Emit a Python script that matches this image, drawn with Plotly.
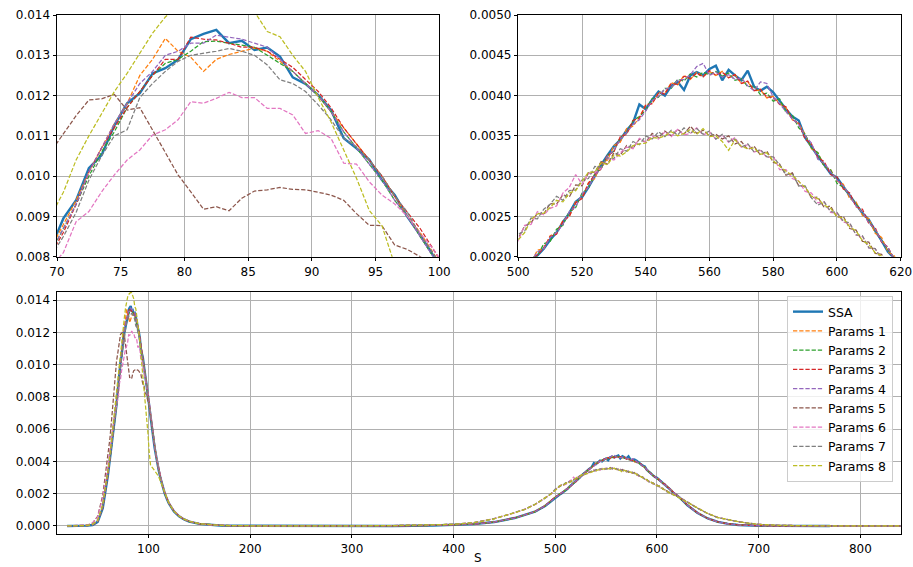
import plotly.graph_objects as go

# ---------------- data (densities in units of 1e-4) ----------------
SCALE = 1e-4

# x grid around the first peak
X1 = [20, 30, 40, 45, 50, 55, 58, 60, 62, 64, 66,
      67.5, 68.5, 69.5, 70.5, 71.5, 72.5, 73.5, 74.5, 75.5, 76.5,
      77.5, 78.5, 79.5, 80.5, 81.5, 82.5, 83.5, 84.5, 85.5, 86.5,
      87.5, 88.5, 89.5, 90.5, 91.5, 92.5, 93.5, 94.5, 95.5, 96.5,
      97.5, 98.5, 99.5, 100.5,
      102, 104, 106, 108, 110, 112, 114, 116, 118, 120,
      125, 130, 135, 140, 150, 160, 170, 190, 220, 260, 300, 340]

# x grid around the second peak
X2 = ([380, 400, 420, 440, 460, 470, 480, 490, 496]
      + list(range(500, 621, 2))
      + [624, 630, 640, 650, 660, 670, 680, 690, 700, 720, 740, 770, 800, 840])

# ---- SSA ----
SSA_A = [0.0, 0.0, 0.2, 0.6, 2.5, 11.0, 22.5, 31.0, 41.5, 51.0, 61.0,
         68.5, 75.0, 82.0, 89.5, 94.0, 102.0, 105.2, 112.6, 118.1, 120.6,
         125.5, 126.8, 128.9, 134.0, 135.3, 136.3, 133.0, 133.6, 131.3, 131.9,
         129.7, 124.5, 122.9, 120.1, 116.4, 109.4, 106.9, 104.1, 99.0, 95.3,
         89.9, 85.4, 80.4, 76.0,
         68.0, 58.0, 48.5, 41.0, 34.5, 29.0, 24.0, 20.0, 16.8, 14.0,
         9.0, 6.0, 4.0, 2.7, 1.3, 0.6, 0.3, 0.1, 0.03, 0.0, 0.0, 0.0]
SSA_B = [0.3, 0.6, 1.1, 2.4, 4.9, 6.8, 8.8, 12.4, 15.5,
         17.6, 18.5, 19.3, 20.1, 21.0, 22.1, 23.0, 24.3, 25.4, 26.8,
         27.4, 28.6, 30.0, 31.4, 32.6, 33.7, 34.5, 35.7, 36.6, 38.9,
         38.3, 39.5, 40.5, 40.0, 41.2, 41.7, 40.7, 42.5, 42.9, 42.5,
         43.3, 43.7, 41.9, 43.2, 42.5, 41.9, 43.1, 41.1, 40.6, 41.1,
         40.4, 39.3, 38.3, 37.4, 36.9, 34.8, 33.6, 32.5, 31.4, 30.3,
         29.8, 28.7, 27.6, 26.6, 25.4, 24.6, 23.2, 22.0, 20.6, 19.8,
         18.8,
         16.6, 12.8, 8.0, 4.6, 2.5, 1.3, 0.6, 0.3, 0.15, 0.05, 0.02, 0.0, None, None]

# ---- Params 1 ----
P1_A = [0.0, 0.0, 0.3, 0.8, 3.0, 12.0, 23.5, 32.0, 42.0, 52.0, 62.0,
        69.5, 75.5, 82.0, 88.0, 94.0, 101.0, 107.0, 113.0, 118.0, 125.0,
        129.0, 134.2, 131.0, 129.5, 126.0, 129.0, 130.2, 131.0, 131.8, 131.0,
        128.5, 126.0, 123.0, 120.0, 116.0, 112.0, 108.0, 104.0, 100.0, 95.0,
        90.0, 86.0, 81.0, 76.5,
        68.5, 58.5, 49.0, 41.5, 35.0, 29.3, 24.3, 20.3, 17.0, 14.2,
        9.2, 6.1, 4.1, 2.8, 1.3, 0.6, 0.3, 0.1, 0.03, 0.01, 0.0, 0.0]
P1_B = [0.3, 0.7, 1.2, 2.5, 4.8, 6.9, 8.9, 12.6, 15.8,
        18.3, 19.0, 19.3, 20.8, 21.0, 22.6, 22.9, 24.5, 25.0, 26.8,
        27.3, 29.2, 29.7, 31.6, 32.0, 33.8, 34.2, 35.9, 36.2, 37.3,
        38.9, 39.0, 40.4, 40.3, 41.6, 41.3, 42.5, 42.0, 42.9, 42.4,
        43.0, 42.5, 43.0, 42.2, 42.6, 41.5, 41.7, 40.6, 40.7, 39.7,
        39.9, 39.0, 38.5, 37.0, 36.5, 35.2, 33.4, 32.9, 31.2, 30.8,
        29.4, 29.0, 27.2, 26.8, 25.1, 24.7, 22.9, 22.4, 20.6, 20.1,
        18.6,
        16.8, 12.9, 8.1, 4.7, 2.5, 1.3, 0.6, 0.3, 0.15, 0.05, 0.02, 0.0, 0.0, 0.0]

# ---- Params 2 ----
P2_A = [0.0, 0.0, 0.2, 0.7, 2.8, 11.5, 23.0, 31.5, 41.0, 51.0, 60.5,
        68.5, 74.5, 81.0, 87.0, 93.0, 100.0, 106.0, 111.0, 117.0, 121.0,
        125.0, 128.0, 129.0, 131.0, 133.4, 133.5, 133.0, 132.5, 132.0, 130.0,
        128.0, 126.0, 123.0, 120.0, 116.0, 111.0, 107.0, 103.0, 99.0, 94.0,
        90.0, 85.0, 80.0, 75.5,
        67.5, 57.5, 48.5, 41.0, 34.5, 29.0, 24.0, 20.0, 16.8, 14.0,
        9.0, 6.0, 4.0, 2.7, 1.3, 0.6, 0.3, 0.1, 0.03, 0.0, 0.0, 0.0]
P2_B = [0.3, 0.6, 1.1, 2.3, 4.9, 6.7, 8.7, 12.3, 15.4,
        17.7, 18.6, 19.9, 20.1, 21.6, 21.9, 23.4, 23.9, 25.6, 26.1,
        27.9, 28.5, 30.3, 30.9, 32.6, 33.1, 34.8, 35.3, 36.9, 37.4,
        38.2, 39.6, 39.8, 40.9, 40.9, 42.0, 41.8, 42.7, 42.3, 42.9,
        42.6, 43.0, 42.4, 42.8, 41.9, 42.1, 41.1, 41.2, 40.1, 40.3,
        39.3, 39.6, 37.9, 37.6, 36.0, 35.2, 33.5, 32.9, 31.2, 30.8,
        29.1, 28.6, 27.6, 26.5, 25.4, 24.3, 23.3, 22.0, 20.9, 19.7,
        18.8,
        16.5, 12.7, 7.9, 4.6, 2.4, 1.3, 0.6, 0.3, 0.15, 0.05, 0.02, 0.0, 0.0, 0.0]

# ---- Params 3 ----
P3_A = [0.0, 0.0, 0.2, 0.7, 2.8, 11.5, 23.0, 31.5, 41.5, 51.5, 61.0,
        68.0, 74.0, 80.5, 86.0, 93.0, 101.0, 107.0, 112.0, 117.0, 121.0,
        125.0, 129.0, 129.0, 134.5, 134.0, 133.8, 133.0, 132.0, 132.0, 131.0,
        129.0, 127.0, 124.0, 121.0, 117.0, 112.0, 108.0, 104.0, 100.0, 95.0,
        91.0, 87.0, 82.0, 77.0,
        69.0, 59.0, 49.5, 41.8, 35.2, 29.5, 24.5, 20.5, 17.2, 14.3,
        9.3, 6.2, 4.1, 2.8, 1.3, 0.6, 0.3, 0.1, 0.03, 0.0, 0.0, 0.0]
P3_B = [0.3, 0.6, 1.1, 2.4, 5.0, 6.8, 8.9, 12.5, 15.6,
        18.1, 18.5, 19.8, 20.2, 21.1, 22.5, 22.8, 24.4, 25.0, 26.7,
        27.2, 29.1, 30.2, 30.9, 32.6, 33.0, 34.9, 35.2, 36.9, 37.2,
        38.8, 39.0, 40.3, 40.2, 41.5, 41.4, 42.4, 42.1, 42.8, 42.3,
        43.1, 42.5, 42.9, 42.2, 42.6, 41.5, 41.8, 40.6, 40.8, 39.8,
        39.8, 38.9, 38.6, 37.0, 36.6, 34.6, 34.0, 32.3, 31.8, 30.2,
        29.9, 28.4, 27.9, 26.2, 25.9, 24.1, 23.6, 21.8, 21.2, 19.6,
        19.0,
        16.7, 12.9, 8.0, 4.6, 2.5, 1.3, 0.6, 0.3, 0.15, 0.05, 0.02, 0.0, 0.0, 0.0]

# ---- Params 4 ----
P4_A = [0.0, 0.0, 0.2, 0.7, 2.8, 11.8, 23.5, 32.0, 42.0, 52.0, 61.5,
        69.0, 75.0, 81.0, 87.0, 93.0, 101.0, 107.0, 113.0, 118.0, 123.0,
        126.0, 130.0, 131.0, 133.0, 133.0, 135.0, 134.5, 134.0, 133.0, 132.0,
        129.0, 126.0, 123.0, 120.0, 116.0, 111.0, 107.0, 103.0, 99.0, 94.0,
        90.0, 85.0, 80.0, 75.5,
        67.5, 57.5, 48.5, 41.0, 34.5, 29.0, 24.0, 20.0, 16.8, 14.0,
        9.0, 6.0, 4.0, 2.7, 1.3, 0.6, 0.3, 0.1, 0.03, 0.0, 0.0, 0.0]
P4_B = [0.3, 0.6, 1.1, 2.4, 4.9, 6.8, 8.8, 12.4, 15.5,
        17.9, 18.9, 19.4, 20.6, 21.0, 22.4, 23.0, 24.0, 25.6, 26.2,
        27.8, 28.6, 30.1, 31.0, 32.5, 33.2, 34.6, 35.4, 36.4, 37.0,
        38.1, 39.4, 39.9, 40.8, 41.0, 41.9, 42.0, 42.6, 43.6, 44.0,
        42.5, 42.9, 42.3, 42.6, 42.0, 42.2, 41.2, 40.6, 41.7, 41.5,
        39.8, 39.0, 38.0, 37.1, 36.4, 35.0, 34.1, 32.1, 31.6, 30.6,
        29.5, 28.8, 27.6, 26.3, 25.5, 24.2, 23.4, 21.9, 21.1, 19.7,
        18.9,
        16.6, 12.8, 8.0, 4.6, 2.5, 1.3, 0.6, 0.3, 0.15, 0.05, 0.02, 0.0, 0.0, 0.0]

# ---- Params 5 ----
P5_A = [0.0, 0.1, 0.6, 1.8, 6.0, 19.0, 33.0, 43.0, 54.0, 68.0, 86.0,
        96.0, 102.0, 106.0, 110.5, 115.0, 118.9, 119.2, 120.3, 116.4, 117.0,
        111.5, 106.0, 100.3, 96.1, 91.8, 92.4, 91.4, 94.5, 96.3, 96.6,
        97.2, 96.7, 96.6, 96.0, 95.3, 94.0, 90.7, 87.8, 87.7, 82.9,
        81.8, 80.0, 78.0, 75.0,
        68.0, 58.0, 49.0, 41.5, 35.0, 29.3, 24.3, 20.3, 17.0, 14.2,
        9.2, 6.2, 4.2, 2.9, 1.4, 0.7, 0.35, 0.12, 0.04, 0.02, 0.05, 0.2]
P5_B = [0.5, 1.0, 2.0, 4.5, 8.2, 10.3, 13.3, 17.2, 20.0,
        22.3, 23.8, 24.2, 25.4, 25.3, 26.6, 26.5, 27.7, 27.4, 28.9,
        28.8, 30.4, 30.5, 31.8, 31.5, 32.9, 32.6, 33.8, 33.5, 34.6,
        34.2, 35.3, 34.8, 35.6, 35.0, 35.8, 35.2, 36.2, 35.3, 35.7,
        35.0, 35.2, 34.6, 35.0, 34.0, 34.3, 33.3, 33.7, 32.6, 33.1,
        31.7, 31.5, 30.1, 30.4, 28.8, 28.7, 27.3, 27.4, 26.1, 26.3,
        24.9, 25.0, 23.5, 23.3, 21.9, 21.8, 20.4, 20.3, 19.2, 19.3,
        18.3,
        17.0, 14.8, 11.0, 7.7, 5.2, 3.8, 2.6, 1.7, 1.0, 0.35, 0.12, 0.04, 0.01, 0.0]

# ---- Params 6 ----
P6_A = [0.0, 0.1, 0.6, 1.8, 5.5, 17.5, 28.0, 37.0, 47.0, 58.0, 66.0,
        71.0, 74.5, 77.5, 81.0, 88.7, 91.2, 96.1, 100.3, 104.0, 106.5,
        110.2, 111.5, 114.0, 118.5, 118.1, 119.3, 120.8, 119.5, 119.5, 116.8,
        116.8, 115.2, 110.6, 111.3, 109.4, 103.2, 103.0, 98.6, 95.3, 93.1,
        90.0, 85.8, 82.0, 77.5,
        69.5, 59.5, 50.0, 42.3, 35.6, 29.8, 24.8, 20.8, 17.5, 14.6,
        9.5, 6.4, 4.3, 3.0, 1.5, 0.7, 0.35, 0.12, 0.04, 0.02, 0.05, 0.2]
P6_B = [0.5, 1.0, 2.1, 4.6, 8.1, 10.4, 13.2, 17.3, 19.8,
        22.0, 23.9, 24.0, 25.6, 25.2, 26.0, 26.3, 27.9, 28.6, 30.2,
        29.0, 30.3, 30.4, 31.0, 32.2, 32.0, 32.9, 33.6, 33.4, 34.7,
        34.2, 35.0, 34.6, 35.5, 34.9, 35.8, 35.1, 35.3, 36.0, 35.1,
        35.5, 34.6, 35.1, 34.2, 34.8, 33.6, 33.9, 33.0, 33.2, 32.3,
        32.5, 30.8, 30.8, 29.7, 29.4, 28.1, 27.9, 26.7, 26.8, 25.5,
        25.4, 24.3, 24.1, 22.7, 22.5, 21.1, 21.0, 19.7, 19.8, 18.7,
        18.8,
        17.1, 14.9, 11.1, 7.7, 5.3, 3.8, 2.6, 1.7, 1.0, 0.36, 0.12, 0.04, 0.01, 0.0]

# ---- Params 7 ----
P7_A = [0.0, 0.0, 0.3, 0.9, 3.4, 12.5, 24.0, 32.5, 42.0, 51.5, 60.5,
        68.0, 74.0, 80.0, 85.0, 91.0, 99.0, 105.0, 110.0, 111.5, 119.5,
        123.0, 126.0, 128.5, 130.0, 130.5, 131.0, 131.7, 131.0, 130.0, 127.6,
        123.9, 123.0, 121.0, 117.7, 114.0, 109.4, 107.3, 104.0, 100.0, 95.0,
        91.0, 85.4, 81.0, 76.0,
        68.5, 58.5, 49.0, 41.5, 35.0, 29.3, 24.3, 20.3, 17.0, 14.2,
        9.2, 6.2, 4.2, 2.9, 1.4, 0.7, 0.35, 0.12, 0.04, 0.02, 0.05, 0.2]
P7_B = [0.5, 1.0, 2.0, 4.5, 8.3, 10.3, 13.4, 17.1, 20.1,
        22.8, 23.2, 24.8, 24.7, 25.9, 26.5, 27.5, 27.0, 28.2, 28.3,
        29.5, 29.7, 31.2, 31.1, 32.3, 32.2, 33.4, 33.1, 34.3, 33.9,
        35.0, 34.6, 35.5, 34.9, 35.7, 35.1, 36.0, 35.3, 35.9, 35.2,
        35.6, 34.6, 35.2, 34.3, 34.6, 33.6, 34.0, 33.0, 33.3, 32.4,
        32.4, 31.4, 30.2, 30.3, 28.8, 28.8, 27.3, 26.4, 26.8, 25.6,
        25.5, 24.4, 24.2, 22.7, 22.6, 21.1, 21.0, 19.7, 19.9, 18.6,
        18.7,
        17.0, 14.8, 11.0, 7.6, 5.2, 3.7, 2.6, 1.7, 1.0, 0.35, 0.12, 0.04, 0.01, 0.0]

# ---- Params 8 ----
P8_A = [0.0, 0.0, 0.3, 1.0, 3.5, 13.5, 25.0, 34.0, 44.0, 56.0, 68.0,
        77.0, 83.5, 90.0, 96.0, 104.0, 110.0, 115.5, 121.0, 125.5, 130.5,
        135.5, 139.5, 142.0, 143.5, 144.5, 144.8, 144.5, 143.0, 140.8, 135.9,
        134.6, 130.0, 126.0, 119.5, 113.5, 106.5, 99.5, 91.5, 87.7, 78.0,
        72.0, 66.0, 57.0, 47.0,
        37.5, 36.0, 34.5, 32.5, 30.5, 27.0, 23.5, 20.3, 17.0, 14.2,
        9.2, 6.2, 4.2, 2.9, 1.4, 0.7, 0.35, 0.12, 0.04, 0.02, 0.05, 0.2]
P8_B = [0.5, 1.0, 2.0, 4.4, 8.2, 10.2, 13.3, 17.2, 19.9,
        22.1, 23.0, 24.6, 25.3, 25.4, 26.1, 27.0, 26.8, 27.9, 28.2,
        29.4, 30.5, 30.5, 31.7, 31.4, 32.6, 32.5, 33.0, 33.8, 34.0,
        34.1, 34.8, 34.7, 35.0, 35.5, 35.0, 35.3, 35.8, 35.2, 35.9,
        34.9, 35.0, 34.3, 33.2, 34.5, 33.7, 33.4, 33.5, 32.7, 32.9,
        31.9, 31.2, 30.6, 30.1, 29.3, 28.6, 27.5, 27.2, 26.4, 26.0,
        25.0, 24.8, 23.7, 23.2, 22.0, 21.5, 20.5, 20.1, 19.4, 19.0,
        18.4,
        17.0, 14.8, 11.0, 7.7, 5.2, 3.8, 2.6, 1.7, 1.0, 0.35, 0.12, 0.04, 0.01, 0.0]

NAMES = ["SSA", "Params 1", "Params 2", "Params 3", "Params 4",
         "Params 5", "Params 6", "Params 7", "Params 8"]
COLORS = ["#1f77b4", "#ff7f0e", "#2ca02c", "#d62728", "#9467bd",
          "#8c564b", "#e377c2", "#7f7f7f", "#bcbd22"]

SERIES_A = [SSA_A, P1_A, P2_A, P3_A, P4_A, P5_A, P6_A, P7_A, P8_A]
SERIES_B = [SSA_B, P1_B, P2_B, P3_B, P4_B, P5_B, P6_B, P7_B, P8_B]

for nm, a, b in zip(NAMES, SERIES_A, SERIES_B):
    assert len(a) == len(X1), (nm, "A", len(a), len(X1))
    assert len(b) == len(X2), (nm, "B", len(b), len(X2))

X_ALL = X1 + X2


def scaled(vals):
    return [None if v is None else v * SCALE for v in vals]


# ---------------- figure ----------------
W, H = 913, 567
FONT = "DejaVu Sans"
FS = 12

fig = go.Figure()

for i, (nm, a, b, col) in enumerate(zip(NAMES, SERIES_A, SERIES_B, COLORS)):
    y = scaled(a + b)
    if i == 0:
        line = dict(color=col, width=2.4)
    else:
        line = dict(color=col, width=1.25, dash="4.3px,1.9px")
    for k, (xa, ya) in enumerate([("x", "y"), ("x2", "y2"), ("x3", "y3")]):
        fig.add_trace(go.Scatter(
            x=X_ALL, y=y, mode="lines", name=nm, line=line,
            xaxis=xa, yaxis=ya, showlegend=(k == 2), hoverinfo="skip",
        ))


def px_x(p):
    return p / W


def px_y(p):
    return 1 - p / H


axis_common = dict(
    showline=True, linecolor="#000000", linewidth=0.9, mirror=True,
    ticks="outside", ticklen=3.5, tickwidth=0.9, tickcolor="#000000",
    showgrid=True, gridcolor="#b0b0b0", gridwidth=0.8,
    zeroline=False, automargin=False,
    tickfont=dict(family=FONT, size=FS, color="#000000"),
)

top_dom = [px_y(256.7), px_y(15)]
bot_dom = [px_y(534), px_y(291.7)]

fig.update_layout(
    width=W, height=H,
    margin=dict(l=0, r=0, t=0, b=0),
    paper_bgcolor="white", plot_bgcolor="white",
    font=dict(family=FONT, size=FS, color="#000000"),
    xaxis=dict(domain=[px_x(57), px_x(439.3)], range=[70, 100], anchor="y",
               tickvals=[70, 75, 80, 85, 90, 95, 100], **axis_common),
    yaxis=dict(domain=top_dom, range=[0.008, 0.014], anchor="x",
               tickvals=[0.008, 0.009, 0.010, 0.011, 0.012, 0.013, 0.014],
               tickformat=".3f", **axis_common),
    xaxis2=dict(domain=[px_x(518.3), px_x(900.7)], range=[500, 620], anchor="y2",
                tickvals=[500, 520, 540, 560, 580, 600, 620], **axis_common),
    yaxis2=dict(domain=top_dom, range=[0.002, 0.005], anchor="x2",
                tickvals=[0.0020, 0.0025, 0.0030, 0.0035, 0.0040, 0.0045, 0.0050],
                tickformat=".4f", **axis_common),
    xaxis3=dict(domain=[px_x(57), px_x(901)], range=[10, 840], anchor="y3",
                tickvals=[100, 200, 300, 400, 500, 600, 700, 800], **axis_common),
    yaxis3=dict(domain=bot_dom, range=[-0.0005, 0.01452], anchor="x3",
                tickvals=[0.000, 0.002, 0.004, 0.006, 0.008, 0.010, 0.012, 0.014],
                tickformat=".3f", **axis_common),
    legend=dict(
        x=px_x(787), y=px_y(296), xanchor="left", yanchor="top",
        bgcolor="rgba(255,255,255,0.8)", bordercolor="#cccccc", borderwidth=1,
        font=dict(family=FONT, size=12.5, color="#000000"),
        itemwidth=30, tracegroupgap=0,
    ),
    annotations=[dict(
        text="S", x=px_x(478), y=px_y(566.5), xref="paper", yref="paper",
        xanchor="center", yanchor="bottom", showarrow=False,
        font=dict(family=FONT, size=FS, color="#000000"),
    )],
    hovermode=False,
)

fig.write_html("out.html", config={"displayModeBar": False})
